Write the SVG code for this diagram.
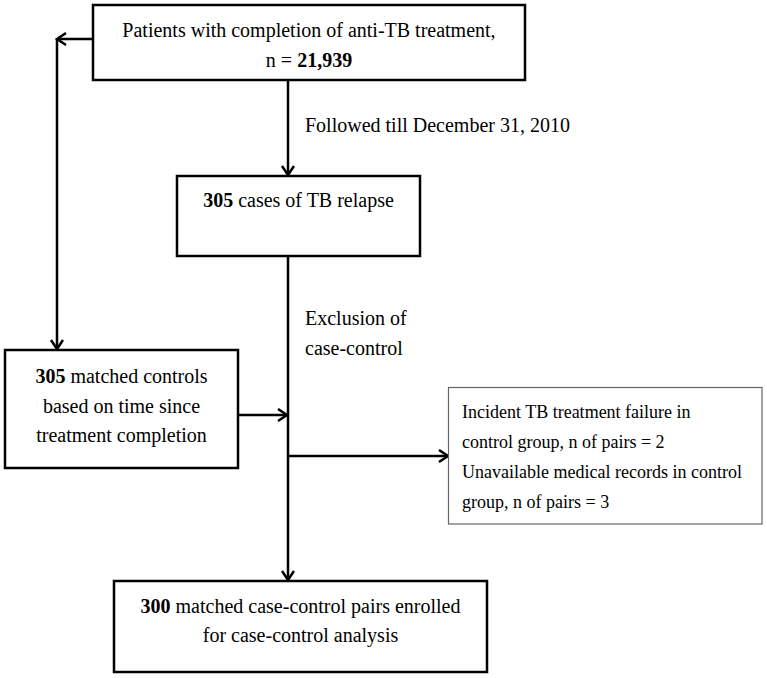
<svg xmlns="http://www.w3.org/2000/svg" width="767" height="678" viewBox="0 0 767 678">
<style>
  text { font-family: "Liberation Serif", "Times New Roman", serif; font-size: 20px; fill: #000; }
  .c { text-anchor: middle; }
  .b { font-weight: bold; }
  .s { font-size: 18px; }
  .box { fill: #fff; stroke: #000; stroke-width: 2.5; }
  .thin { fill: #fff; stroke: #666; stroke-width: 1.2; }
  .ln { fill: none; stroke: #000; stroke-width: 2.5; }
</style>
<defs>
  <marker id="arr" markerUnits="userSpaceOnUse" markerWidth="14" markerHeight="16" refX="10" refY="7" orient="auto">
    <path d="M1,1 L10,7 L1,13" fill="none" stroke="#000" stroke-width="2.5"/>
  </marker>
</defs>
<rect width="767" height="678" fill="#fff"/>
<g id="connectors">
  <path class="ln" d="M93,39 H57" marker-end="url(#arr)"/>
  <path class="ln" d="M57,39 V349" marker-end="url(#arr)"/>
  <path class="ln" d="M288,80 V175" marker-end="url(#arr)"/>
  <path class="ln" d="M288,256 V580" marker-end="url(#arr)"/>
  <path class="ln" d="M238,415 H287" marker-end="url(#arr)"/>
  <path class="ln" d="M288,456 H448" marker-end="url(#arr)"/>
</g>
<g id="label-followed">
  <text x="305" y="132">Followed till December 31, 2010</text>
</g>
<g id="label-exclusion">
  <text x="305" y="325">Exclusion of</text>
  <text x="305" y="355">case-control</text>
</g>
<g id="node-patients">
  <rect class="box" x="93" y="5" width="432" height="75"/>
  <text class="c" x="309" y="37">Patients with completion of anti-TB treatment,</text>
  <text class="c" x="309" y="67">n = <tspan class="b">21,939</tspan></text>
</g>
<g id="node-cases">
  <rect class="box" x="177" y="176" width="243" height="80"/>
  <text class="c" x="298.5" y="207"><tspan class="b">305</tspan> cases of TB relapse</text>
</g>
<g id="node-controls">
  <rect class="box" x="5" y="350" width="233" height="118"/>
  <text class="c" x="121.5" y="383"><tspan class="b">305</tspan> matched controls</text>
  <text class="c" x="121.5" y="413">based on time since</text>
  <text class="c" x="121.5" y="442">treatment completion</text>
</g>
<g id="node-excluded">
  <rect class="thin" x="448.5" y="387.5" width="313.5" height="136.5"/>
  <text class="s" x="462" y="418">Incident TB treatment failure in</text>
  <text class="s" x="462" y="448">control group, n of pairs = 2</text>
  <text class="s" x="462" y="478">Unavailable medical records in control</text>
  <text class="s" x="462" y="508">group, n of pairs = 3</text>
</g>
<g id="node-enrolled">
  <rect class="box" x="114" y="581" width="373" height="91"/>
  <text class="c" x="300.5" y="613"><tspan class="b">300</tspan> matched case-control pairs enrolled</text>
  <text class="c" x="300.5" y="642">for case-control analysis</text>
</g>
</svg>
